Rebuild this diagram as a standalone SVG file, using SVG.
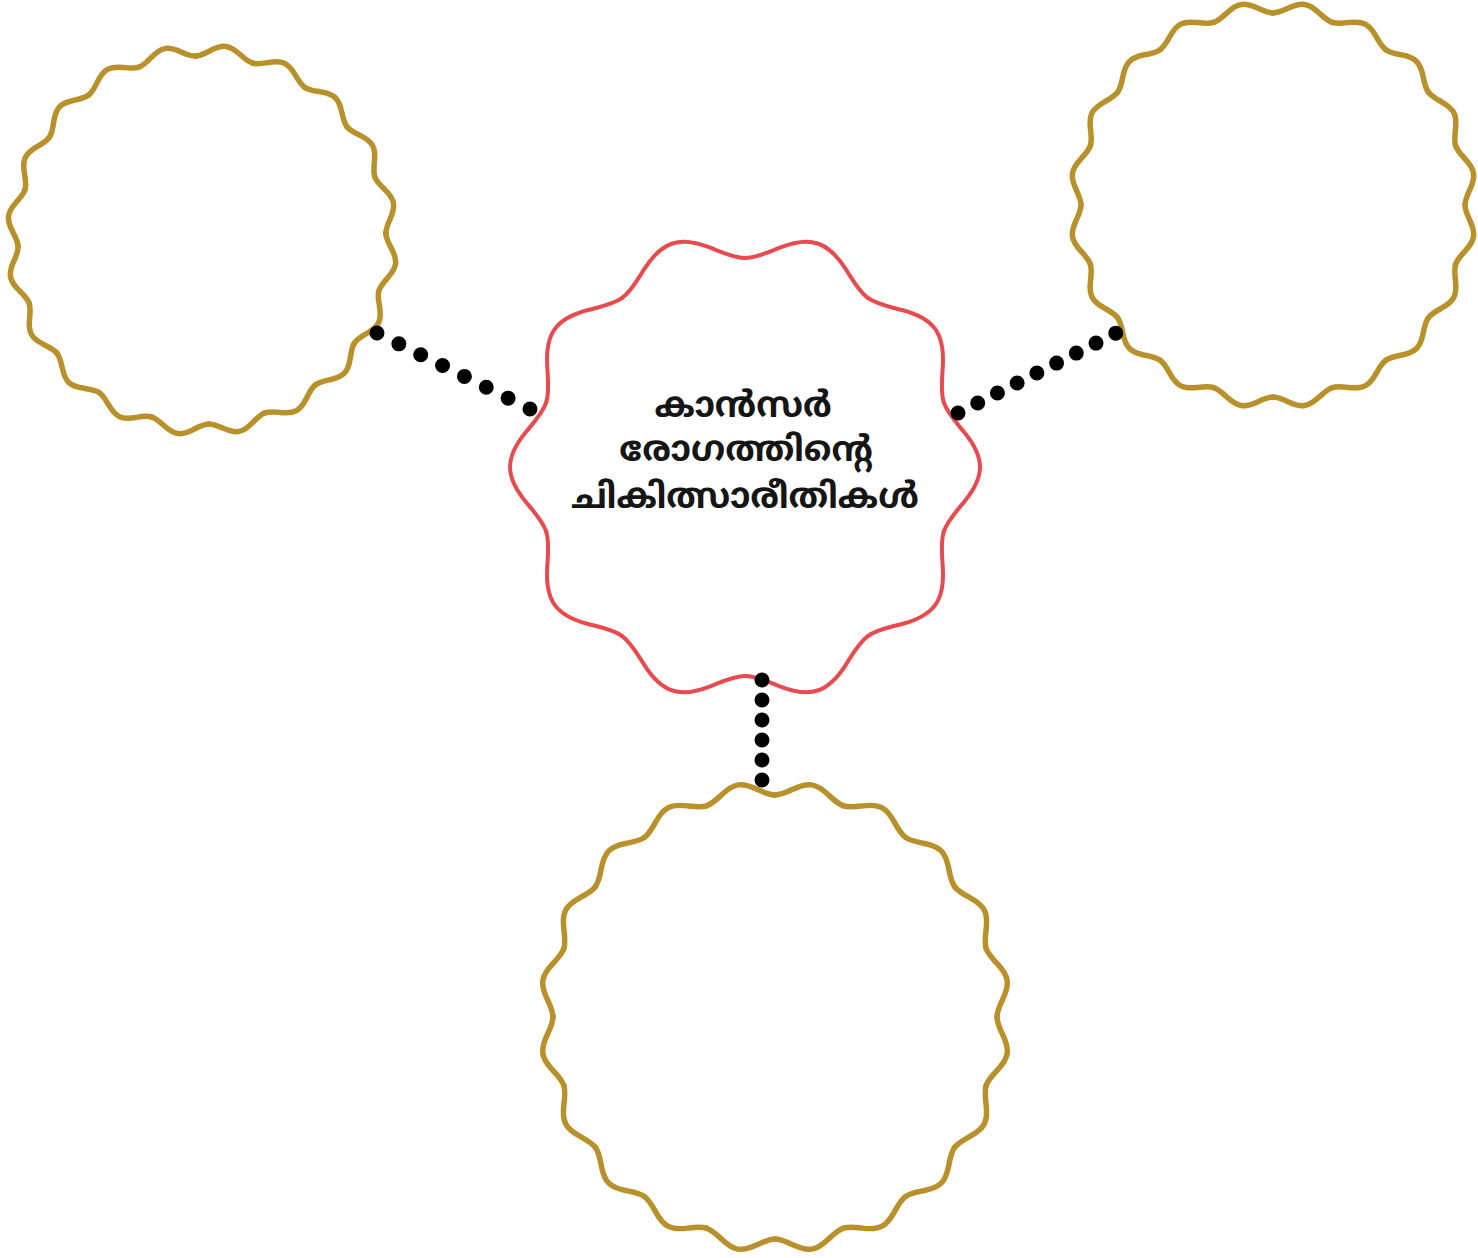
<svg xmlns="http://www.w3.org/2000/svg" width="1478" height="1258" viewBox="0 0 1478 1258">
<style>
.gold{fill:none;stroke:#B8912A;stroke-width:5.5;stroke-linecap:round;stroke-linejoin:round}
.red{fill:none;stroke:#E84A4E;stroke-width:4;stroke-linecap:round;stroke-linejoin:round}
.dots{fill:none;stroke:#000;stroke-width:15;stroke-linecap:round}
.label{font-family:"Noto Sans Malayalam","Noto Sans","DejaVu Sans",sans-serif;font-weight:bold;font-size:35px;fill:#151515;text-anchor:middle}
</style>
<defs>
<path id="lobeL" d="M181.73 -28.78 C182.48 -24.02 185.66 -19.59 188.92 -14.87 C192.18 -10.15 195 -5.11 195 0 C195 5.11 192.18 10.15 188.92 14.87 C185.66 19.59 182.48 24.02 181.73 28.78"/>
<path id="lobeR" d="M189.64 -30.04 C190.43 -25.07 193.61 -20.43 196.89 -15.50 C200.17 -10.57 203 -5.31 203 0 C203 5.31 200.17 10.57 196.89 15.50 C193.61 20.43 190.43 25.07 189.64 30.04"/>
<path id="lobeB" d="M219.27 -34.73 C220.18 -28.99 223.94 -23.63 227.80 -17.93 C231.66 -12.23 235 -6.15 235 0 C235 6.15 231.66 12.23 227.80 17.93 C223.94 23.63 220.18 28.99 219.27 34.73"/>
<path id="lobeC" d="M198.77 -64.58 C202.15 -54.17 210.73 -45.15 219.27 -34.73 C227.81 -24.31 235 -12.30 235 0 C235 12.30 227.81 24.31 219.27 34.73 C210.73 45.15 202.15 54.17 198.77 64.58"/>
</defs>
<rect width="1478" height="1258" fill="#ffffff"/>
<g id="node-center" class="red" transform="translate(745 467)">
<use href="#lobeC"/><use href="#lobeC" transform="rotate(36)"/><use href="#lobeC" transform="rotate(72)"/><use href="#lobeC" transform="rotate(108)"/><use href="#lobeC" transform="rotate(144)"/><use href="#lobeC" transform="rotate(180)"/><use href="#lobeC" transform="rotate(216)"/><use href="#lobeC" transform="rotate(252)"/><use href="#lobeC" transform="rotate(288)"/><use href="#lobeC" transform="rotate(324)"/>
</g>
<g id="node-center-label" class="label">
<text x="743" y="417">കാൻസർ</text>
<text x="746" y="461">രോഗത്തിന്റെ</text>
<text x="745" y="508">ചികിത്സാരീതികൾ</text>
</g>
<g id="node-left" class="gold" transform="translate(202 240) rotate(7)">
<use href="#lobeL"/><use href="#lobeL" transform="rotate(18)"/><use href="#lobeL" transform="rotate(36)"/><use href="#lobeL" transform="rotate(54)"/><use href="#lobeL" transform="rotate(72)"/><use href="#lobeL" transform="rotate(90)"/><use href="#lobeL" transform="rotate(108)"/><use href="#lobeL" transform="rotate(126)"/><use href="#lobeL" transform="rotate(144)"/><use href="#lobeL" transform="rotate(162)"/><use href="#lobeL" transform="rotate(180)"/><use href="#lobeL" transform="rotate(198)"/><use href="#lobeL" transform="rotate(216)"/><use href="#lobeL" transform="rotate(234)"/><use href="#lobeL" transform="rotate(252)"/><use href="#lobeL" transform="rotate(270)"/><use href="#lobeL" transform="rotate(288)"/><use href="#lobeL" transform="rotate(306)"/><use href="#lobeL" transform="rotate(324)"/><use href="#lobeL" transform="rotate(342)"/>
</g>
<g id="node-right" class="gold" transform="translate(1273 205) rotate(9)">
<use href="#lobeR"/><use href="#lobeR" transform="rotate(18)"/><use href="#lobeR" transform="rotate(36)"/><use href="#lobeR" transform="rotate(54)"/><use href="#lobeR" transform="rotate(72)"/><use href="#lobeR" transform="rotate(90)"/><use href="#lobeR" transform="rotate(108)"/><use href="#lobeR" transform="rotate(126)"/><use href="#lobeR" transform="rotate(144)"/><use href="#lobeR" transform="rotate(162)"/><use href="#lobeR" transform="rotate(180)"/><use href="#lobeR" transform="rotate(198)"/><use href="#lobeR" transform="rotate(216)"/><use href="#lobeR" transform="rotate(234)"/><use href="#lobeR" transform="rotate(252)"/><use href="#lobeR" transform="rotate(270)"/><use href="#lobeR" transform="rotate(288)"/><use href="#lobeR" transform="rotate(306)"/><use href="#lobeR" transform="rotate(324)"/><use href="#lobeR" transform="rotate(342)"/>
</g>
<g id="node-bottom" class="gold" transform="translate(775 1017) rotate(9)">
<use href="#lobeB"/><use href="#lobeB" transform="rotate(18)"/><use href="#lobeB" transform="rotate(36)"/><use href="#lobeB" transform="rotate(54)"/><use href="#lobeB" transform="rotate(72)"/><use href="#lobeB" transform="rotate(90)"/><use href="#lobeB" transform="rotate(108)"/><use href="#lobeB" transform="rotate(126)"/><use href="#lobeB" transform="rotate(144)"/><use href="#lobeB" transform="rotate(162)"/><use href="#lobeB" transform="rotate(180)"/><use href="#lobeB" transform="rotate(198)"/><use href="#lobeB" transform="rotate(216)"/><use href="#lobeB" transform="rotate(234)"/><use href="#lobeB" transform="rotate(252)"/><use href="#lobeB" transform="rotate(270)"/><use href="#lobeB" transform="rotate(288)"/><use href="#lobeB" transform="rotate(306)"/><use href="#lobeB" transform="rotate(324)"/><use href="#lobeB" transform="rotate(342)"/>
</g>
<g id="connectors" class="dots">
<line x1="377" y1="333" x2="530" y2="409" stroke-dasharray="0 24.4"/>
<line x1="958" y1="413" x2="1116" y2="333" stroke-dasharray="0 22.1"/>
<line x1="762" y1="680" x2="762" y2="800" stroke-dasharray="0 20"/>
</g>
</svg>
